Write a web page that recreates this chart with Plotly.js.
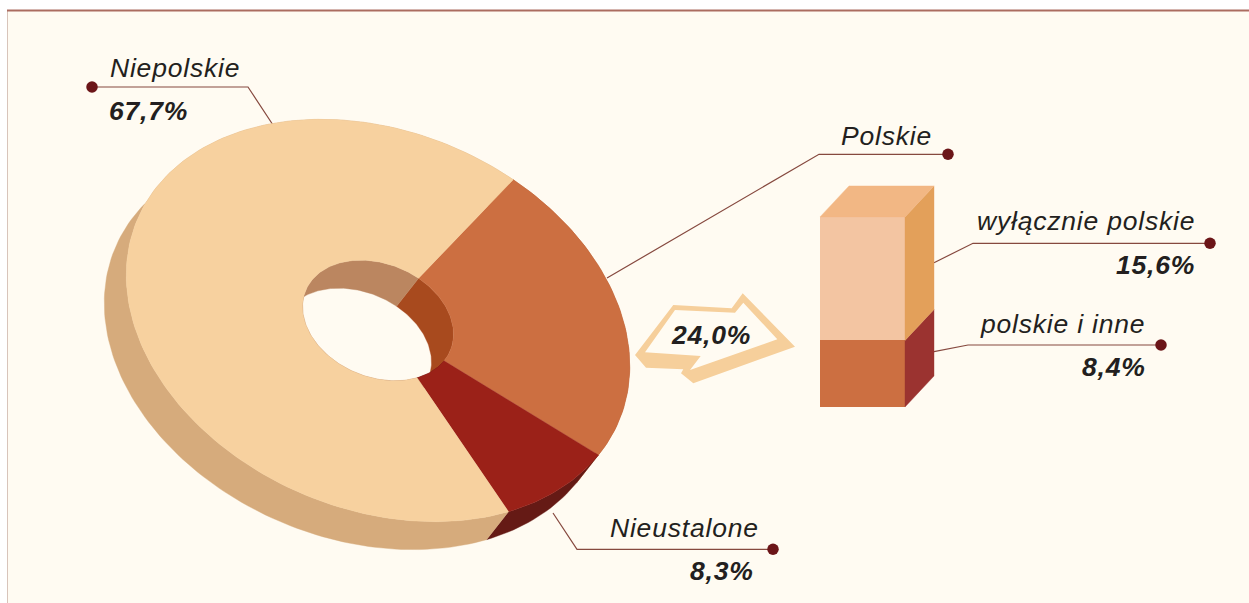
<!DOCTYPE html>
<html>
<head>
<meta charset="utf-8">
<script src="https://cdn.plot.ly/plotly-3.0.1.min.js"></script>
<style>
html,body{margin:0;padding:0;background:#fff}
#chart{width:1249px;height:603px}
.annotation-text{letter-spacing:0.8px}
</style>
</head>
<body>
<div id="chart"></div>
<script>
// ---- data ----
const ringLabels = ['Polskie', 'Nieustalone', 'Niepolskie'];
const ringValues = [24.0, 8.3, 67.7];
const ringTopColors = ['#cc6f41', '#9b2118', '#f7d19f'];
const ringSideColors = ['#b05a30', '#651a15', '#d6ab7c'];
const ringWallColors = ['#a84a1e', '#651a15', '#bb8660'];

const barLabels = ['polskie i inne', 'wyłącznie polskie'];
const barValues = [8.4, 15.6];
const barFrontColors = ['#cc6f41', '#f3c5a2'];
const barSideColors = ['#9b3330', '#e3a05a'];
const barTopColor = '#f2b784';

const ink = '#231f20', cream = '#fffbf2', leaderColor = '#86493f', dotColor = '#6b1518';

// ---- projection of the ring ----
const cx = 378, cy = 320.5, semiA = 261, semiB = 189, tilt = 22.5 * Math.PI / 180;
const holeRatio = 0.30, startDeg = -74.2, depthX = -22, depthY = 28;

function ringPoint(tDeg, scale, sx, sy) {
  const t = tDeg * Math.PI / 180;
  const u = semiA * scale * Math.cos(t), v = semiB * scale * Math.sin(t);
  return [cx + u * Math.cos(tilt) - v * Math.sin(tilt) + sx,
          cy + u * Math.sin(tilt) + v * Math.cos(tilt) + sy];
}
function arc(a0, a1, scale, sx, sy) {
  const n = Math.max(8, Math.ceil(Math.abs(a1 - a0) / 1.5)), out = [];
  for (let i = 0; i <= n; i++) out.push(ringPoint(a0 + (a1 - a0) * i / n, scale, sx, sy));
  return out;
}
function poly(points, color, name, yaxis) {
  const xs = points.map(p => p[0]), ys = points.map(p => p[1]);
  xs.push(xs[0]); ys.push(ys[0]);
  return {type: 'scatter', mode: 'lines', x: xs, y: ys, fill: 'toself', fillcolor: color,
          line: {color: color, width: 0.4}, hoverinfo: 'skip', showlegend: false,
          name: name, yaxis: yaxis || 'y'};
}

const sideTraces = [], wallTraces = [], topTraces = [];
let angle = startDeg;
const total = ringValues.reduce((a, b) => a + b, 0);
ringValues.forEach((v, i) => {
  const a0 = angle, a1 = angle + v / total * 360;
  angle = a1;
  sideTraces.push(poly(arc(a0, a1, 1, 0, 0).concat(arc(a1, a0, 1, depthX, depthY)), ringSideColors[i], ringLabels[i] + ' side'));
  wallTraces.push(poly(arc(a0, a1, holeRatio, 0, 0).concat(arc(a1, a0, holeRatio, depthX, depthY)), ringWallColors[i], ringLabels[i] + ' wall'));
  topTraces.push(poly(arc(a0, a1, 1, 0, 0).concat(arc(a1, a0, holeRatio, 0, 0)), ringTopColors[i], ringLabels[i]));
});

// ---- the stacked block, on its own value axis ----
const pxPerUnit = 7.92, barBasePx = 407, barLeft = 820, barWidth = 85, sideDx = 29, sideDy = 31;
const y2Range = [(barBasePx - 603) / pxPerUnit, barBasePx / pxPerUnit];
const barCentre = barLeft + barWidth / 2, barRight = barLeft + barWidth;
const barTraces = [], barFaces = [];
let level = 0;
const lift = sideDy / pxPerUnit;
barValues.forEach((v, i) => {
  barTraces.push({type: 'bar', x: [barCentre], y: [v], width: [barWidth], yaxis: 'y2',
    name: barLabels[i], marker: {color: barFrontColors[i], line: {width: 0}}, hoverinfo: 'skip', showlegend: false});
  barFaces.push(poly([[barRight, level], [barRight + sideDx, level + lift],
    [barRight + sideDx, level + v + lift], [barRight, level + v]], barSideColors[i], barLabels[i] + ' side', 'y2'));
  level += v;
});
barFaces.push(poly([[barLeft, level], [barRight, level], [barRight + sideDx, level + lift],
  [barLeft + sideDx, level + lift]], barTopColor, 'top', 'y2'));

// ---- leaders and labels ----
const leaders = [
  [[92, 87], [248, 87], [273, 125]],
  [[948, 154.3], [819, 154.3], [607, 278]],
  [[1210, 243.3], [973, 243.3], [934, 262.7]],
  [[1161, 345], [968, 345], [934, 351.7]],
  [[773, 549.3], [577, 549.3], [553, 513]]
];
const pathOf = pts => 'M' + pts.map(p => p.join(',')).join('L');
const leaderShapes = leaders.map(pts => ({type: 'path', path: pathOf(pts), xref: 'x', yref: 'y',
  line: {color: leaderColor, width: 1.2}, layer: 'below'}));
const dots = {type: 'scatter', mode: 'markers', x: leaders.map(l => l[0][0]), y: leaders.map(l => l[0][1]),
  marker: {color: dotColor, size: 11.5}, hoverinfo: 'skip', showlegend: false};

const pct = v => v.toFixed(1).replace('.', ',') + '%';
const labelFont = {family: 'Liberation Sans, Arial, sans-serif', size: 26.5, color: ink, style: 'italic'};
const valueFont = {family: 'Liberation Sans, Arial, sans-serif', size: 26.5, color: ink, style: 'italic', weight: 700};
const note = (text, x, y, font) => ({text, x, y, xref: 'x', yref: 'y', xanchor: 'left', yanchor: 'middle',
  showarrow: false, font, borderpad: 0, borderwidth: 0});
const annotations = [
  note(ringLabels[2], 110, 68, labelFont),
  note(pct(ringValues[2]), 109, 111, valueFont),
  note(ringLabels[0], 841, 136, labelFont),
  note(pct(ringValues[0]), 671, 335, valueFont),
  note(barLabels[1], 977, 221, labelFont),
  note(pct(barValues[1]), 1116, 265, valueFont),
  note(barLabels[0], 980, 324, labelFont),
  note(pct(barValues[0]), 1082, 367, valueFont),
  note(ringLabels[1], 610, 528, labelFont),
  note(pct(ringValues[1]), 690, 571, valueFont)
];

const frameShapes = [
  {type: 'rect', xref: 'x', yref: 'y', x0: 7, x1: 1249, y0: 10, y1: 603, fillcolor: cream,
   line: {width: 0}, layer: 'below'},
  {type: 'line', xref: 'x', yref: 'y', x0: 7.5, x1: 7.5, y0: 10, y1: 603, line: {color: '#d8c4ba', width: 1}, layer: 'below'},
  {type: 'line', xref: 'x', yref: 'y', x0: 7, x1: 1249, y0: 10.5, y1: 10.5, line: {color: '#ab6c60', width: 2}, layer: 'below'},
  {type: 'path', xref: 'x', yref: 'y', layer: 'below', fillcolor: '#f6cf9b', line: {width: 0},
   path: 'M635,355L673.3,305L731.7,308.3L742.7,293.3L795,346.7L693.3,383.3L681,373.3L683.3,369.3L646,367.7Z'},
  {type: 'path', xref: 'x', yref: 'y', layer: 'below', fillcolor: cream, line: {width: 0},
   path: 'M645,352.3L675,310L735,312.7L743.3,302.7L777.3,339.3L690,370L700.7,356Z'}
];

const layout = {
  width: 1249, height: 603, margin: {l: 0, r: 0, t: 0, b: 0, pad: 0},
  paper_bgcolor: '#ffffff', plot_bgcolor: 'rgba(0,0,0,0)', showlegend: false,
  barmode: 'stack', dragmode: false, hovermode: false,
  xaxis: {visible: false, range: [0, 1249], fixedrange: true},
  yaxis: {visible: false, range: [603, 0], fixedrange: true},
  yaxis2: {visible: false, range: y2Range, overlaying: 'y', fixedrange: true},
  shapes: frameShapes.concat(leaderShapes),
  annotations
};

Plotly.newPlot('chart', [...sideTraces, ...wallTraces, ...topTraces, ...barTraces, ...barFaces, dots], layout,
  {displayModeBar: false, staticPlot: true});
</script>
</body>
</html>
